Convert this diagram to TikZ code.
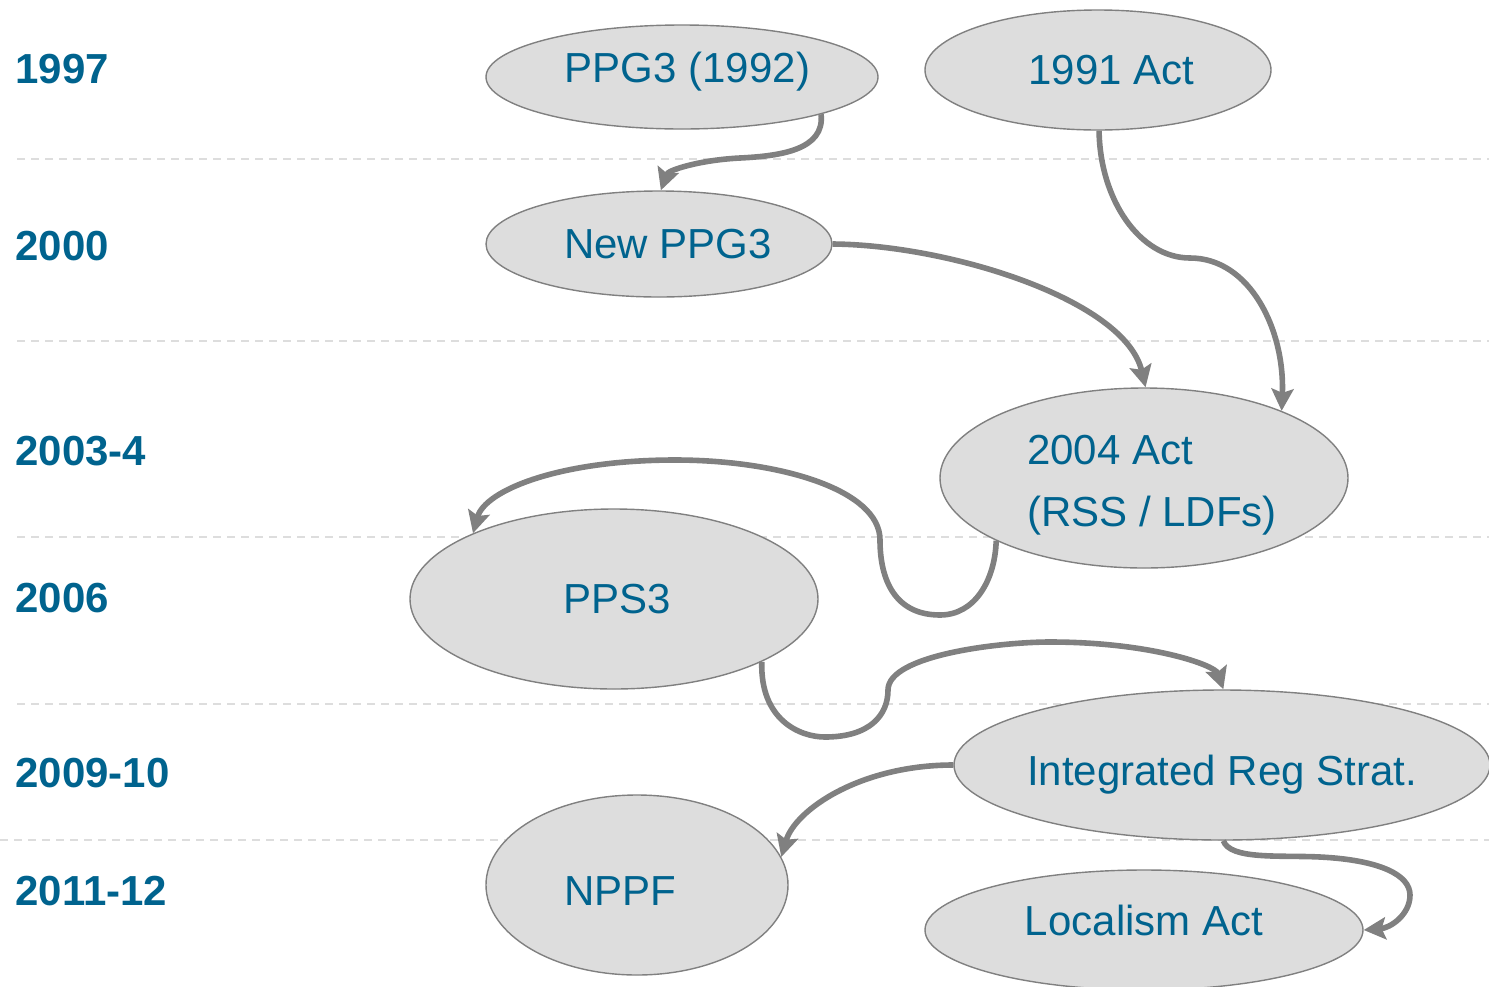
\documentclass[tikz,border=0pt]{standalone}
\usepackage{fontspec}
\setmainfont{Liberation Sans}
\usepackage{tikz}
\usetikzlibrary{shapes.geometric, arrows.meta}

\definecolor{txt}{RGB}{0,99,142}
\definecolor{evfill}{RGB}{221,221,221}
\definecolor{evline}{RGB}{128,128,128}
\definecolor{sep}{RGB}{221,221,221}

\begin{document}
\begin{tikzpicture}[x=0.5pt, y=-0.5pt,
		ev/.style={ellipse, draw=evline, line width=0.7pt, fill=evfill, inner sep=0pt, text=txt, font=\fontsize{21}{31}\selectfont},
		yr/.style={anchor=west, inner sep=0pt, text=txt, font=\fontsize{21}{25}\selectfont\bfseries},
		lnk/.style={draw=evline, line width=2.8pt, -{Stealth[length=11pt, width=11pt, inset=2pt]}},
		sp/.style={draw=sep, line width=0.8pt, dash pattern=on 4pt off 3pt}]
		\useasboundingbox (0,0) rectangle (1489,986);

		% year rows
		\draw[sp] (17,159) -- (1489,159);
		\draw[sp] (17,341) -- (1489,341);
		\draw[sp] (17,537) -- (1489,537);
		\draw[sp] (17,704) -- (1489,704);
		\draw[sp] (0,840) -- (1489,840);

		\node[yr] (y97) at (15,69) {1997};
		\node[yr] (y00) at (15,246) {2000};
		\node[yr] (y03) at (15,451) {2003-4};
		\node[yr] (y06) at (15,598) {2006};
		\node[yr] (y09) at (15,773) {2009-10};
		\node[yr] (y11) at (15,891) {2011-12};

		% documents
		\node[ev, minimum width=196pt, minimum height=52pt, text depth=9.5pt] (ppg) at (682,77) {\hspace*{5.5pt}PPG3 (1992)};
		\node[ev, minimum width=173pt, minimum height=60pt] (a91) at (1098,70) {\hspace*{13.5pt}1991 Act};
		\node[ev, minimum width=173pt, minimum height=53pt] (np) at (659,244) {\hspace*{9pt}New PPG3};
		\node[ev, minimum width=204pt, minimum height=90pt, align=left, text height=53pt] (a04) at (1144,478) {\hspace*{8pt}2004 Act\\\hspace*{8pt}(RSS / LDFs)};
		\node[ev, minimum width=204pt, minimum height=90pt] (pps) at (614,599) {\hspace*{3.5pt}PPS3};
		\node[ev, minimum width=268pt, minimum height=75pt, inner xsep=-12pt, text height=25pt] (irs) at (1222,765) {Integrated Reg Strat.};
		\node[ev, minimum width=151pt, minimum height=90pt, text height=20pt] (nppf) at (637,885) {NPPF\hspace*{17pt}};
		\node[ev, minimum width=219pt, minimum height=60pt, text depth=10pt] (loc) at (1144,930) {Localism Act};

		% links
		\draw[lnk] (ppg.-15) .. controls (825,150) and (780,156) .. (740,158) .. controls (700,160) and (668,170) .. (np.88);
		\draw[lnk] (a91.-89) .. controls (1100,200) and (1140,258) .. (1190,258) .. controls (1250,258) and (1285,330) .. (a04.26);
		\draw[lnk] (np.east) .. controls (950,245) and (1125,300) .. (a04.89);
		\draw[lnk] (a04.203) .. controls (995,580) and (975,615) .. (940,615) .. controls (895,615) and (880,580) .. (880,540) .. controls (880,490) and (780,460) .. (675,460) .. controls (560,460) and (485,490) .. (pps.155);
		\draw[lnk] (pps.-23) .. controls (760,720) and (800,737) .. (825,737) .. controls (870,737) and (888,715) .. (888,690) .. controls (888,655) and (1000,642) .. (1050,642) .. controls (1150,642) and (1215,665) .. (irs.89);
		\draw[lnk] (irs.west) .. controls (860,765) and (795,810) .. (nppf.11);
		\draw[lnk] (irs.-89) .. controls (1230,860) and (1280,855) .. (1320,857) .. controls (1380,860) and (1410,875) .. (1410,895) .. controls (1410,915) and (1390,928) .. (loc.east);
	\end{tikzpicture}
\end{document}
